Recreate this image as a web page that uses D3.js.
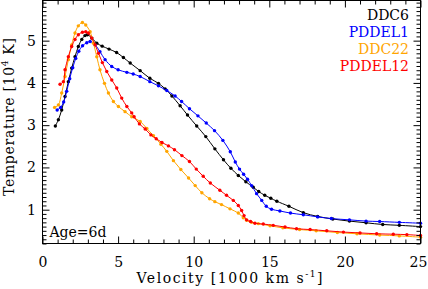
<!DOCTYPE html>
<html>
<head>
<meta charset="utf-8">
<script src="https://d3js.org/d3.v7.min.js"></script>
<style>
body{margin:0;background:#fff}
text{font-family:"DejaVu Serif",serif}
</style>
</head>
<body>
<script>
// velocity [1000 km/s] and temperature [1e4 K]
var ddc6V=[0.85,1.05,1.27,1.49,1.71,1.93,2.15,2.37,2.6,2.81,2.97,3.26,3.59,3.95,4.4,4.9,5.35,5.8,6.46,7.1,7.67,8.11,8.56,9.1,9.59,10.2,10.8,11.4,11.97,12.46,12.95,13.45,13.94,14.3,14.7,15.1,15.5,16.3,17.25,18.2,19.2,20.3,21.4,22.5,23.6,25];
var ddc6T=[2.98,3.13,3.36,3.68,4.03,4.35,4.62,4.86,5.03,5.12,5.14,5.06,4.94,4.87,4.8,4.72,4.6,4.47,4.29,4.11,3.99,3.86,3.69,3.46,3.24,2.98,2.73,2.44,2.18,1.98,1.81,1.66,1.53,1.43,1.34,1.27,1.2,1.08,0.93,0.84,0.78,0.73,0.69,0.65,0.63,0.6];

var pddel1V=[0.97,1.2,1.4,1.6,1.8,2.0,2.2,2.4,2.65,2.93,3.15,3.48,3.8,4.14,4.58,5.0,5.58,6.0,6.46,7.1,7.67,8.22,8.77,9.2,9.72,10.28,10.83,11.38,11.93,12.42,12.75,13.03,13.3,13.56,13.83,14.16,14.5,14.8,15.15,15.7,16.4,17.25,18.2,19.1,20.3,21.4,22.3,23.6,25];
var pddel1T=[3.36,3.42,3.55,3.8,4.1,4.36,4.58,4.75,4.88,4.95,4.98,4.9,4.74,4.55,4.39,4.31,4.25,4.21,4.15,4.03,3.93,3.82,3.69,3.56,3.39,3.22,3.05,2.87,2.64,2.37,2.13,1.96,1.84,1.72,1.57,1.38,1.22,1.08,1.01,0.97,0.92,0.88,0.83,0.79,0.76,0.73,0.72,0.7,0.68];

var ddc22V=[0.8,1.05,1.27,1.49,1.71,1.93,2.15,2.37,2.64,2.86,3.15,3.37,3.59,3.8,4.1,4.36,4.69,5.02,5.46,5.9,6.46,6.9,7.34,7.83,8.22,8.66,9.15,9.66,10.1,10.54,11.05,11.4,11.84,12.4,12.95,13.28,13.5,13.83,14.27,15.05,15.9,17.0,18.1,19.5,20.8,22.3,23.6,25];
var ddc22T=[3.42,3.48,3.76,4.15,4.55,4.9,5.18,5.35,5.43,5.37,5.21,4.94,4.62,4.31,3.99,3.76,3.56,3.44,3.32,3.2,3.09,2.92,2.75,2.55,2.38,2.16,1.95,1.75,1.57,1.4,1.26,1.19,1.12,1.02,0.92,0.81,0.75,0.7,0.67,0.62,0.57,0.53,0.5,0.46,0.43,0.4,0.38,0.35];

var pddel12V=[1.16,1.38,1.49,1.71,1.93,2.15,2.37,2.64,2.86,3.03,3.26,3.48,3.7,3.96,4.25,4.58,4.91,5.24,5.58,5.9,6.06,6.41,6.79,7.17,7.52,7.9,8.33,8.73,9.22,9.72,10.17,10.63,11.1,11.73,12.17,12.62,12.95,13.17,13.33,13.5,13.76,14.05,14.6,15.26,16.04,16.8,17.7,18.8,19.9,21,22.1,23.2,24.1,25];
var pddel12T=[3.97,4.03,4.31,4.62,4.86,5.03,5.14,5.2,5.21,5.18,5.06,4.9,4.7,4.48,4.27,4.07,3.88,3.64,3.44,3.29,3.2,3.03,2.91,2.77,2.68,2.59,2.51,2.42,2.28,2.14,1.96,1.79,1.63,1.46,1.34,1.22,1.1,0.98,0.86,0.76,0.72,0.68,0.66,0.63,0.59,0.55,0.53,0.5,0.47,0.45,0.43,0.42,0.41,0.39];

var seriesNames=["DDC6","PDDEL1","DDC22","PDDEL12"];
var seriesColors=["#000000","#0000ff","#ffa500","#ff0000"];
var xTicks=[0,5,10,15,20,25];
var yTicks=[1,2,3,4,5];

var W=428,H=289;
var pL=42.5,pR=420.5,pT=0.5,pB=243.5;

var svg=d3.select("body").append("svg").attr("width",W).attr("height",H);

var x=d3.scaleLinear().domain([0,25]).range([pL,pR]);
var y=d3.scaleLinear().domain([0.2,5.95]).range([pB,pT]);

var xMinor=d3.range(0,26,1).filter(d=>d%5!=0);
var yMinor=d3.range(2,60,1).map(d=>d/10).filter(d=>Math.abs(d-Math.round(d))>0.01);

// curves
var data=[[ddc6V,ddc6T],[pddel1V,pddel1T],[ddc22V,ddc22T],[pddel12V,pddel12T]];
var line=d3.line().x(d=>x(d[0])).y(d=>y(d[1])).curve(d3.curveCatmullRom);
data.forEach(function(s,i){
	var pts=s[0].map((v,j)=>[v,s[1][j]]);
	var g=svg.append("g");
	g.append("path").attr("d",line(pts)).attr("fill","none").attr("stroke",seriesColors[i]).attr("stroke-width",1);
	g.selectAll("circle").data(pts).enter().append("circle")
		.attr("cx",d=>x(d[0])).attr("cy",d=>y(d[1])).attr("r",1.7).attr("fill",seriesColors[i]);
});

// axes, ticks pointing inward on all four sides
function styleAx(g){
	g.select(".domain").remove();
	g.selectAll("line").attr("stroke","#000");
	g.selectAll("text").attr("font-size",14).attr("font-family","DejaVu Serif").attr("fill","#000");
}
svg.append("g").attr("transform","translate(0,"+pB+")")
	.call(d3.axisBottom(x).tickValues(xTicks).tickSize(-7).tickPadding(13.5).tickFormat(d3.format("d"))).call(styleAx)
	.selectAll("text").filter(d=>d==25).attr("dx",-2.5);
svg.append("g").attr("transform","translate(0,"+pB+")")
	.call(d3.axisBottom(x).tickValues(xMinor).tickSize(-4).tickFormat("")).call(styleAx);
svg.append("g").attr("transform","translate(0,"+pT+")")
	.call(d3.axisTop(x).tickValues(xTicks).tickSize(-7).tickFormat("")).call(styleAx);
svg.append("g").attr("transform","translate(0,"+pT+")")
	.call(d3.axisTop(x).tickValues(xMinor).tickSize(-4).tickFormat("")).call(styleAx);
svg.append("g").attr("transform","translate("+pL+",0)")
	.call(d3.axisLeft(y).tickValues(yTicks).tickSize(-7).tickPadding(6.5).tickFormat(d3.format("d"))).call(styleAx);
svg.append("g").attr("transform","translate("+pL+",0)")
	.call(d3.axisLeft(y).tickValues(yMinor).tickSize(-4).tickFormat("")).call(styleAx);
svg.append("g").attr("transform","translate("+pR+",0)")
	.call(d3.axisRight(y).tickValues(yTicks).tickSize(-7).tickFormat("")).call(styleAx);
svg.append("g").attr("transform","translate("+pR+",0)")
	.call(d3.axisRight(y).tickValues(yMinor).tickSize(-4).tickFormat("")).call(styleAx);

svg.append("rect").attr("x",pL).attr("y",pT).attr("width",pR-pL).attr("height",pB-pT)
	.attr("fill","none").attr("stroke","#000").attr("stroke-width",1);

// axis titles
var xt=svg.append("text").attr("x",136.5).attr("y",283).attr("font-size",14)
	.attr("textLength",186).attr("lengthAdjust","spacing");
xt.append("tspan").text("Velocity [1000 km s");
xt.append("tspan").attr("font-size",9).attr("dy",-6).text("-1");
xt.append("tspan").attr("dy",6).text("]");

var yt=svg.append("text").attr("transform","translate(14,196) rotate(-90)").attr("font-size",14)
	.attr("textLength",158).attr("lengthAdjust","spacing");
yt.append("tspan").text("Temperature [10");
yt.append("tspan").attr("font-size",9).attr("dy",-6).text("4");
yt.append("tspan").attr("dy",6).text(" K]");

// legend
seriesNames.forEach(function(n,i){
	svg.append("text").attr("x",409).attr("y",20+i*17).attr("text-anchor","end")
		.attr("font-size",14).attr("fill",seriesColors[i]).text(n);
});

svg.append("text").attr("x",49.5).attr("y",237).attr("font-size",14).text("Age=6d");
</script>
</body>
</html>
